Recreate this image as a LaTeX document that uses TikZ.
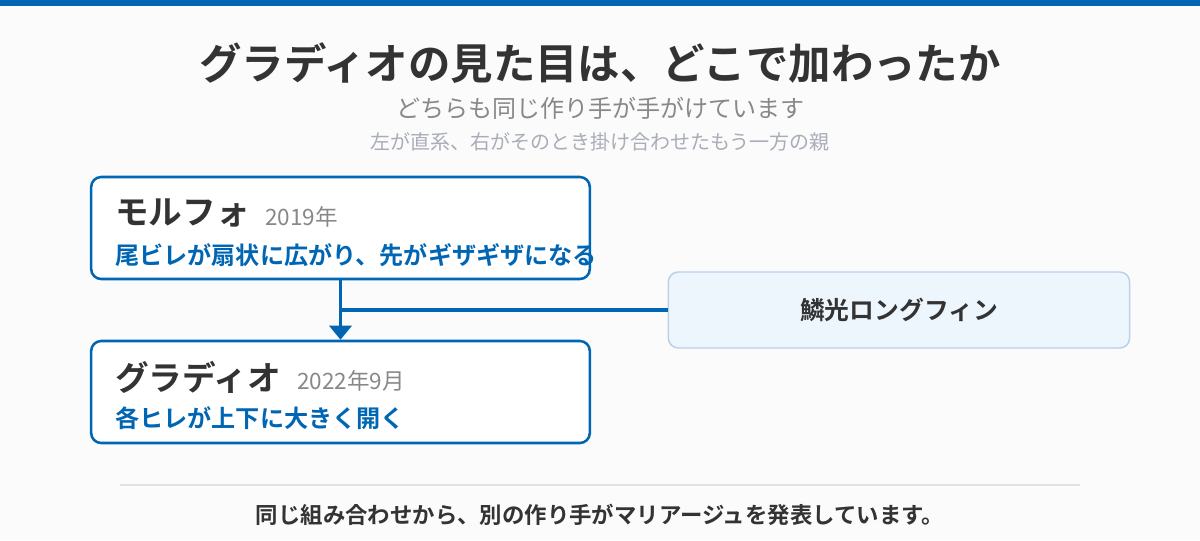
\documentclass[tikz,border=0pt]{standalone}
\usepackage{fontspec}
\setmainfont{Noto Sans CJK JP}[BoldFont={Noto Sans CJK JP Bold}]
\usepackage{tikz}
\usetikzlibrary{arrows.meta}
\definecolor{ablue}{HTML}{0066B3}
\definecolor{ink}{HTML}{333333}
\definecolor{sub}{HTML}{888888}
\definecolor{subb}{HTML}{A9ADB8}
\definecolor{pale}{HTML}{EEF6FD}
\definecolor{paleline}{HTML}{B9D0E6}
\definecolor{sepline}{HTML}{DFE3E8}
\definecolor{bg}{HTML}{FBFBFB}
\tikzset{
	card/.style={draw=ablue,line width=1.9pt,fill=white,rounded corners=7.5pt,minimum width=374pt,minimum height=76.5pt,inner sep=0pt},
	pcard/.style={draw=paleline,line width=1.1pt,fill=pale,rounded corners=7.5pt,minimum width=346pt,minimum height=57pt,inner sep=0pt,font=\bfseries\fontsize{18.6pt}{20pt}\selectfont,text=ink},
	fish/.style={anchor=west,inner sep=0pt,text=ink,font=\bfseries\fontsize{25.2pt}{27pt}\selectfont},
	when/.style={anchor=west,inner sep=0pt,text=sub,font=\fontsize{16.9pt}{18pt}\selectfont},
	look/.style={anchor=west,inner sep=0pt,text=ablue,font=\bfseries\fontsize{18.1pt}{20pt}\selectfont},
	link/.style={draw=ablue,line width=2.5pt}
}
\begin{document}
\begin{tikzpicture}[x=0.75pt,y=-0.75pt]
	\fill[bg] (0,0) rectangle (1200,540);
	\useasboundingbox (0,0) rectangle (1200,540);
	\fill[ablue] (0,0) rectangle (1200,6);

	\node [text=ink,font=\bfseries\fontsize{31.8pt}{34pt}\selectfont] (title) at (600,63) {グラディオの見た目は、どこで加わったか};
	\node [text=sub,font=\fontsize{18pt}{20pt}\selectfont] (sub1) at (600,108) {どちらも同じ作り手が手がけています};
	\node [text=subb,font=\fontsize{15pt}{17pt}\selectfont] (sub2) at (600,142) {左が直系、右がそのとき掛け合わせたもう一方の親};

	\node [card] (mor) at (340.5,228) {};
	\node [card] (gra) at (340.5,392) {};
	\node [pcard] (rin) at (899,310) {鱗光ロングフィン};

	\node [fish] (morname) at (115,213) {モルフォ};
	\node [when] (moryear) at (265,217) {2019年};
	\node [look] (morlook) at (115,255) {尾ビレが扇状に広がり、先がギザギザになる};

	\node [fish] (graname) at (115,377) {グラディオ};
	\node [when] (grayear) at (297,381) {2022年9月};
	\node [look] (gralook) at (115,418) {各ヒレが上下に大きく開く};

	\draw [link,-{Triangle[width=16.5pt,length=10.5pt]}] (mor.south) -- (gra.north);
	\draw [link] (rin.west) -- (rin.west -| mor.south);

	\draw [sepline,line width=1.5pt] (120,485) coordinate (ra) -- (1080,485) coordinate (rb);
	\node [text=ink,font=\bfseries\fontsize{16.8pt}{18pt}\selectfont] (foot) at (600,515) {同じ組み合わせから、別の作り手がマリアージュを発表しています。};
\end{tikzpicture}
\end{document}
